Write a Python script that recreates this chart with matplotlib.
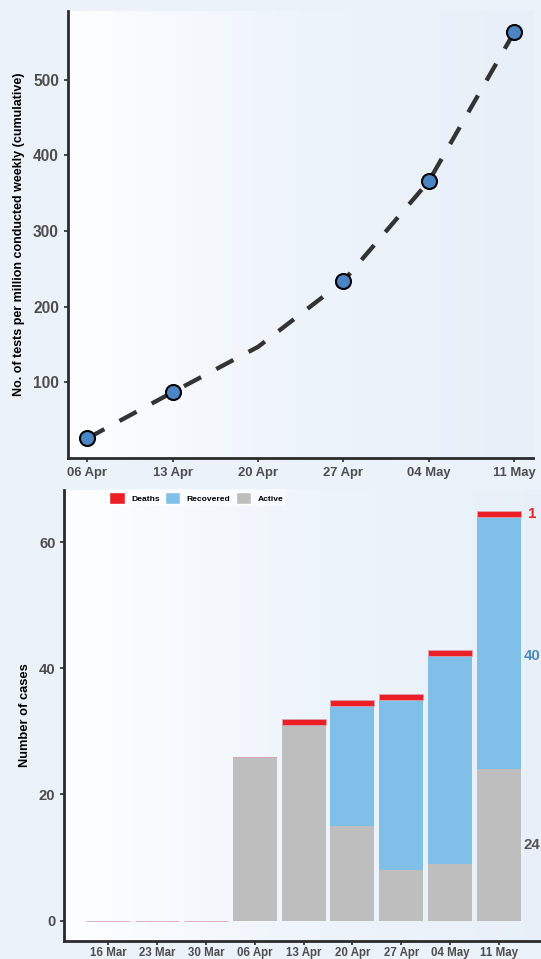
import matplotlib
matplotlib.use("Agg")
import matplotlib.pyplot as plt
import numpy as np
from matplotlib.colors import LinearSegmentedColormap
from matplotlib.patches import Patch

plt.rcParams['font.family'] = ['Liberation Sans', 'DejaVu Sans']
plt.rcParams['font.weight'] = 'bold'

# ---- data: tests per million (cumulative) ----
test_dates = ["06 Apr", "13 Apr", "20 Apr", "27 Apr", "04 May", "11 May"]
tests_per_million = [26, 87, 147, 234, 366, 563]
marker_idx = [0, 1, 3, 4, 5]

# ---- data: cases ----
case_dates = ["16 Mar", "23 Mar", "30 Mar", "06 Apr", "13 Apr", "20 Apr", "27 Apr", "04 May", "11 May"]
active = [0, 0, 0, 26, 31, 15, 8, 9, 24]
recovered = [0, 0, 0, 0, 0, 19, 27, 33, 40]
deaths = [0, 0, 0, 0, 1, 1, 1, 1, 1]

FIG_BG = "#ebf2fa"
grad_cmap = LinearSegmentedColormap.from_list("g", ["#fdfeff", "#eef4fb", "#e7eff8"])
TICK_COL = "#4d4d4d"
SPINE_COL = "#2b2b2b"

fig = plt.figure(figsize=(5.41, 9.59), dpi=100)
fig.patch.set_facecolor(FIG_BG)


def style_axes(ax):
    grad = np.linspace(0, 1, 256).reshape(1, -1)
    ax.imshow(grad, extent=[0, 1, 0, 1], transform=ax.transAxes, cmap=grad_cmap,
              aspect='auto', zorder=0, interpolation='bicubic')
    ax.set_facecolor("none")
    for s in ["top", "right"]:
        ax.spines[s].set_visible(False)
    for s in ["left", "bottom"]:
        ax.spines[s].set_color(SPINE_COL)
        ax.spines[s].set_linewidth(2.0)
    ax.tick_params(axis='both', colors=SPINE_COL, length=3, width=1.2, labelcolor=TICK_COL)


# ---- top panel ----
ax1 = fig.add_axes([0.1257, 0.5224, 0.8595, 0.4661])
style_axes(ax1)
x1 = np.arange(len(test_dates))
ax1.plot(x1, tests_per_million, color="#333333", lw=3.1, dashes=(4.5, 4.0),
         marker='o', markevery=marker_idx, markersize=10.8,
         markerfacecolor="#4a86c5", markeredgecolor="black", markeredgewidth=1.5,
         zorder=3, solid_capstyle='butt', dash_capstyle='butt')
ax1.set_xlim(-0.226, 5.22)
ax1.set_ylim(0, 591)
ax1.set_xticks(x1)
ax1.set_xticklabels(test_dates, fontsize=9.4, fontweight='bold')
ax1.set_yticks([100, 200, 300, 400, 500])
ax1.set_yticklabels(["100", "200", "300", "400", "500"], fontsize=11.2, fontweight='bold')
ax1.set_ylabel("No. of tests per million conducted weekly (cumulative)", fontsize=9,
               fontweight='bold', color='black', labelpad=6)

# ---- bottom panel ----
ax2 = fig.add_axes([0.1192, 0.0191, 0.948, 0.4699])
style_axes(ax2)
x2 = np.arange(len(case_dates))
w = 0.9
act = np.array(active)
rec = np.array(recovered)
dth = np.array(deaths)
ax2.bar(x2, act, width=w, color="#bebebe", linewidth=0, zorder=2)
ax2.bar(x2, rec, bottom=act, width=w, color="#80bfe8", linewidth=0, zorder=2)
ax2.bar(x2, dth, bottom=act + rec, width=w, color="#ec1f27", edgecolor="#d8a3b3",
        linewidth=0.6, zorder=2)

last = len(case_dates) - 1
lx = last + 0.50
ax2.text(lx, act[last] / 2, str(act[last]), color="#555555", fontsize=10.8,
         fontweight='bold', ha='left', va='center')
ax2.text(lx, act[last] + rec[last] / 2 - 2, str(rec[last]), color="#4a8cbd",
         fontsize=10.8, fontweight='bold', ha='left', va='center')
ax2.text(lx + 0.1, act[last] + rec[last] + dth[last] / 2, str(dth[last]), color="#ec1f27",
         fontsize=10.8, fontweight='bold', ha='left', va='center')

ax2.set_xlim(-0.89, 9.6)
ax2.set_ylim(-3.2, 68.3)
ax2.set_xticks(x2)
ax2.set_xticklabels(case_dates, fontsize=8.3, fontweight='bold')
ax2.tick_params(axis='x', pad=1.5)
ax2.set_yticks([0, 20, 40, 60])
ax2.set_yticklabels(["0", "20", "40", "60"], fontsize=10.7, fontweight='bold')
ax2.set_ylabel("Number of cases", fontsize=9.3, fontweight='bold', color='black', labelpad=6)

handles = [Patch(facecolor="#ec1f27", edgecolor="white", label="Deaths"),
           Patch(facecolor="#80bfe8", edgecolor="white", label="Recovered"),
           Patch(facecolor="#bebebe", edgecolor="white", label="Active")]
leg = ax2.legend(handles=handles, loc='upper left', bbox_to_anchor=(0.082, 1.002),
                 ncol=3, frameon=True, fontsize=6.1, handlelength=1.85, handleheight=1.85,
                 columnspacing=0.6, handletextpad=0.75, borderaxespad=0, borderpad=0.3)
leg.get_frame().set_facecolor("white")
leg.get_frame().set_alpha(0.5)
leg.get_frame().set_linewidth(0)
for t in leg.get_texts():
    t.set_fontweight('bold')

fig.savefig("out.png", dpi=100, facecolor=FIG_BG)
